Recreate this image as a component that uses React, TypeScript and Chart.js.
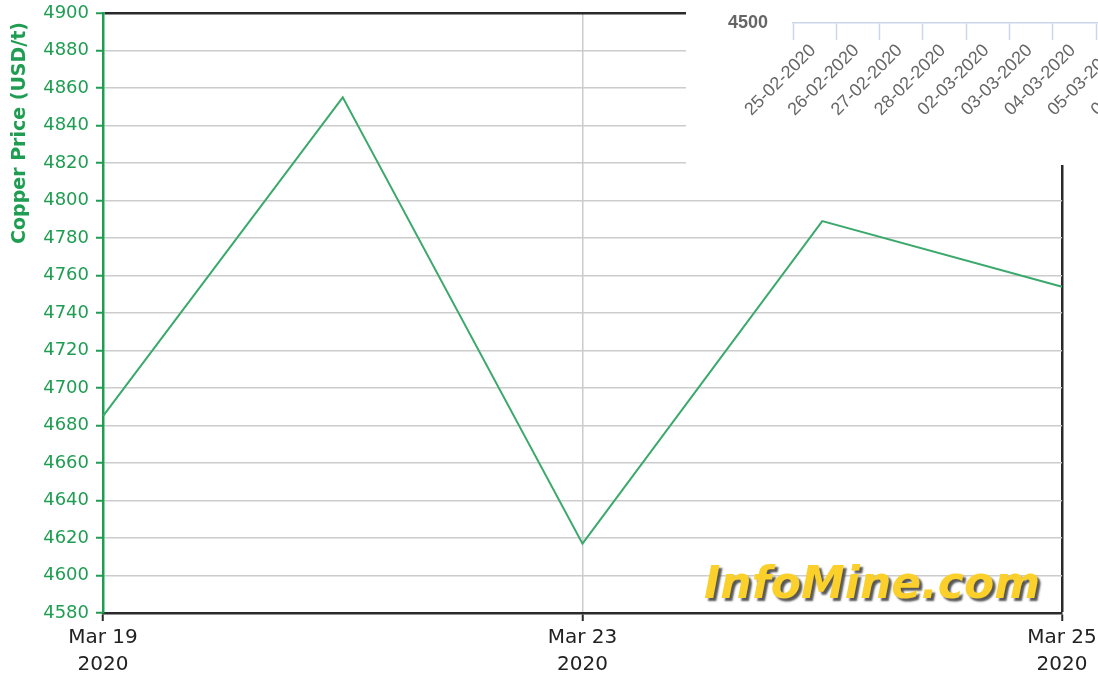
import React, { useEffect, useRef } from 'react';
import { Chart, registerables } from 'chart.js';

Chart.register(...registerables);

// ---------- data ----------
const categories = ['Mar 19', 'Mar 20', 'Mar 23', 'Mar 24', 'Mar 25'];
const tickLabels: (string[] | null)[] = [['Mar 19', '2020'], null, ['Mar 23', '2020'], null, ['Mar 25', '2020']];
const copperPrices = [4685, 4855, 4617, 4789, 4754];
const yMin = 4580;
const yMax = 4900;
const yStep = 20;
const yTitle = 'Copper Price (USD/t)';
const watermark = 'InfoMine.com';

const insetDates = [
  '25-02-2020', '26-02-2020', '27-02-2020', '28-02-2020', '02-03-2020',
  '03-03-2020', '04-03-2020', '05-03-2020', '06-03-2020', '09-03-2020', '10-03-2020',
];
const insetYLabel = 4500;
const insetYTop = 4600;

// ---------- styles ----------
const GREEN = '#1f9d52';
const LINE_GREEN = '#3ba96c';
const GRID = '#cccccc';
const DARK = '#2a2a2a';
const SANS = '"DejaVu Sans", Verdana, sans-serif';
const ARIAL = '"Liberation Sans", Arial, sans-serif';
const CLEAR = 'rgba(0,0,0,0)';

const overlayPlugin = {
  id: 'overlayText',
  afterDraw(chart: any) {
    const ctx = chart.ctx as CanvasRenderingContext2D;
    ctx.save();
    ctx.translate(20, 22);
    ctx.rotate(-Math.PI / 2);
    ctx.font = `bold 19px ${SANS}`;
    ctx.fillStyle = GREEN;
    ctx.textAlign = 'right';
    ctx.textBaseline = 'middle';
    ctx.fillText(yTitle, 0, 0);
    ctx.restore();

    ctx.save();
    ctx.font = `italic bold 44px ${SANS}`;
    ctx.textAlign = 'left';
    ctx.textBaseline = 'alphabetic';
    ctx.shadowColor = 'rgba(70,70,70,0.9)';
    ctx.shadowOffsetX = 3;
    ctx.shadowOffsetY = 3;
    ctx.shadowBlur = 2;
    ctx.fillStyle = '#fbd02a';
    ctx.fillText(watermark, 704, 598);
    ctx.restore();
  },
};

function MainChart() {
  const ref = useRef<HTMLCanvasElement | null>(null);
  useEffect(() => {
    if (!ref.current) return;
    const chart = new Chart(ref.current, {
      type: 'line',
      data: {
        labels: categories,
        datasets: [
          {
            data: copperPrices,
            borderColor: LINE_GREEN,
            borderWidth: 2,
            pointRadius: 0,
            tension: 0,
            fill: false,
          },
        ],
      },
      options: {
        animation: false,
        responsive: false,
        maintainAspectRatio: false,
        layout: { padding: { top: 13, right: 36, left: 0, bottom: 0 } },
        plugins: { legend: { display: false }, tooltip: { enabled: false } },
        scales: {
          x: {
            type: 'category',
            offset: false,
            grid: {
              color: (c: any) => (c.index === 4 ? DARK : c.index === 2 ? GRID : CLEAR),
              lineWidth: (c: any) => (c.index === 4 ? 2.5 : 1.5),
              tickColor: (c: any) => (c.index === 1 || c.index === 3 ? CLEAR : DARK),
              tickLength: 8,
              tickWidth: 2,
            },
            border: { color: DARK, width: 2.5 },
            ticks: {
              autoSkip: false,
              maxRotation: 0,
              minRotation: 0,
              color: '#222',
              padding: 3,
              font: { family: SANS, size: 20, lineHeight: 1.35 },
              callback: (_v: any, i: number) => tickLabels[i] ?? '',
            },
            afterFit: (s: any) => {
              s.height = 64;
              s.paddingRight = 36;
              s.paddingLeft = 0;
            },
          },
          y: {
            min: yMin,
            max: yMax,
            grid: {
              color: (c: any) => (c.tick && c.tick.value === yMax ? DARK : GRID),
              lineWidth: (c: any) => (c.tick && c.tick.value === yMax ? 2.5 : 1.5),
              tickColor: GREEN,
              tickLength: 7,
              tickWidth: 2,
            },
            border: { color: GREEN, width: 2.5 },
            ticks: {
              stepSize: yStep,
              color: GREEN,
              padding: 7,
              font: { family: SANS, size: 18, lineHeight: 0.6 },
              callback: (v: any) => String(v),
            },
            afterFit: (s: any) => {
              s.width = 103;
            },
          },
        },
      },
      plugins: [overlayPlugin],
    } as any);
    return () => chart.destroy();
  }, []);
  return (
    <canvas
      ref={ref}
      width={1098}
      height={677}
      style={{ position: 'absolute', left: 0, top: 0, width: 1098, height: 677 }}
    />
  );
}

function InsetChart() {
  const ref = useRef<HTMLCanvasElement | null>(null);
  useEffect(() => {
    if (!ref.current) return;
    const chart = new Chart(ref.current, {
      type: 'line',
      data: {
        labels: insetDates,
        datasets: [{ data: [], borderColor: '#7cb5ec', pointRadius: 0 }],
      },
      options: {
        animation: false,
        responsive: false,
        maintainAspectRatio: false,
        layout: { padding: { top: 0, right: 30, left: 0, bottom: 0 } },
        plugins: { legend: { display: false }, tooltip: { enabled: false } },
        scales: {
          x: {
            type: 'category',
            offset: false,
            grid: {
              display: true,
              drawOnChartArea: false,
              drawTicks: true,
              tickLength: 17,
              tickColor: '#ccd6eb',
              tickWidth: 1.5,
              color: '#ccd6eb',
            },
            border: { color: '#ccd6eb', width: 1.5 },
            ticks: {
              autoSkip: false,
              minRotation: 45,
              maxRotation: 45,
              color: '#666666',
              padding: 0,
              labelOffset: 20,
              font: { family: ARIAL, size: 18 },
            },
            afterFit: (s: any) => {
              s.height = 142;
            },
          },
          y: {
            min: insetYLabel,
            max: insetYTop,
            grid: {
              display: true,
              drawOnChartArea: false,
              drawTicks: true,
              tickLength: 25,
              tickColor: CLEAR,
              color: CLEAR,
            },
            border: { display: false },
            ticks: {
              stepSize: insetYTop - insetYLabel,
              color: '#666666',
              padding: 0,
              font: { family: ARIAL, size: 18, weight: 'bold', lineHeight: 0.5 },
              callback: (v: any) => (v === insetYLabel ? String(v) : ''),
            },
            afterFit: (s: any) => {
              s.width = 107;
            },
          },
        },
      },
    } as any);
    return () => chart.destroy();
  }, []);
  return (
    <div
      style={{
        position: 'absolute',
        left: 686,
        top: 0,
        width: 412,
        height: 165,
        overflow: 'hidden',
        background: '#ffffff',
      }}
    >
      <canvas ref={ref} width={570} height={165} style={{ display: 'block', width: 570, height: 165 }} />
    </div>
  );
}

export default function App() {
  return (
    <div
      style={{
        position: 'fixed',
        left: 0,
        top: 0,
        width: 1098,
        height: 677,
        background: '#ffffff',
        overflow: 'hidden',
      }}
    >
      <MainChart />
      <InsetChart />
    </div>
  );
}
